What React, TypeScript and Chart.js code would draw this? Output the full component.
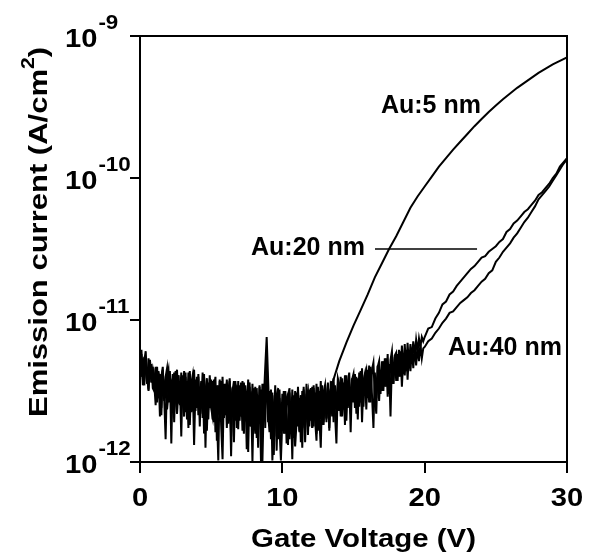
import { useEffect, useRef } from "react";
import { Chart, registerables } from "chart.js";

Chart.register(...registerables);

// ---------------- data (log10 of emission current in A/cm^2) ----------------
const seriesNames = ["Au:5 nm", "Au:20 nm", "Au:40 nm"];
const xTickValues = [0, 10, 20, 30];
const yTickExponents = [-12, -11, -10, -9];
const xTitle = "Gate Voltage (V)";

// noisy low-voltage part: from 0 V in 0.1 V steps
const noiseStartV = 0;
const noiseStepV = 0.1;

const au5NoiseLog = [
  -11.35, -11.24, -11.46, -11.29, -11.22, -11.41, -11.49, -11.28, -11.44, -11.36,
  -11.45, -11.6, -11.33, -11.55, -11.38, -11.67, -11.35, -11.56, -11.4, -11.34,
  -11.58, -11.37, -11.87, -11.41, -11.61, -11.36, -11.66, -11.39, -11.57, -11.37,
  -11.56, -11.68, -11.4, -11.62, -11.37, -11.74, -11.45, -11.39, -11.65, -11.42,
  -11.6, -11.4, -11.75, -11.44, -11.66, -11.38, -11.9, -11.45, -11.63, -11.41,
  -11.62, -11.68, -11.42, -11.79, -11.46, -11.66, -11.43, -11.74, -11.98, -11.45,
  -11.65, -11.44, -11.7, -11.43, -11.82, -11.48, -11.68, -11.45, -11.76, -11.43,
  -11.68, -11.47, -11.78, -11.44, -11.71, -11.5, -11.93, -11.47, -11.7, -11.45,
  -11.67, -11.8, -11.48, -11.72, -11.46, -12.0, -11.7, -11.45, -11.76, -11.26,
  -11.66, -11.79, -11.49, -11.99, -11.72, -11.52, -11.82, -11.48, -11.76, -11.99,
  -11.7, -11.78, -11.5, -11.87, -11.72, -11.51, -11.8, -11.49, -11.74, -11.89,
  -11.72, -11.5, -11.79, -11.53, -11.76, -11.47, -11.86, -11.55, -11.5, -11.75,
  -11.52, -11.76, -11.48, -11.71, -11.45, -11.78, -11.5, -11.7, -11.46, -11.74,
  -11.49, -11.7, -11.46, -11.63, -11.44,
];

const au20NoiseLog = [
  -11.3, -11.21, -11.42, -11.26, -11.35, -11.45, -11.27, -11.4, -11.31, -11.48,
  -11.5, -11.33, -11.56, -11.36, -11.68, -11.4, -11.33, -11.57, -11.42, -11.63,
  -11.52, -11.36, -11.61, -11.38, -11.72, -11.42, -11.35, -11.59, -11.43, -11.82,
  -11.39, -11.61, -11.37, -11.7, -11.45, -11.36, -11.65, -11.42, -11.88, -11.47,
  -11.62, -11.38, -11.64, -11.43, -11.69, -11.4, -11.58, -11.78, -11.44, -11.62,
  -11.42, -11.7, -11.48, -11.4, -11.85, -11.46, -11.67, -11.43, -11.8, -11.49,
  -11.67, -11.42, -11.73, -11.47, -11.96, -11.5, -11.43, -11.71, -11.46, -11.77,
  -11.46, -11.68, -11.43, -11.74, -11.49, -11.91, -11.52, -11.44, -11.75, -11.5,
  -11.7, -11.47, -11.83, -11.53, -11.73, -11.49, -12.0, -11.56, -11.33, -11.12,
  -11.42, -11.7, -11.78, -11.51, -11.95, -11.58, -11.53, -11.84, -11.55, -11.76,
  -11.73, -11.5, -11.8, -11.55, -11.52, -11.84, -11.57, -11.98, -11.53, -11.78,
  -11.51, -11.75, -11.55, -11.86, -11.5, -11.72, -11.78, -11.52, -11.74, -11.49,
  -11.71, -11.47, -11.75, -11.51, -11.8, -11.48, -11.69, -11.9, -11.5, -11.72,
  -11.47, -11.69, -11.45, -11.76, -11.5, -11.43, -11.72, -11.46, -11.67, -11.41,
  -11.45, -11.68, -11.41, -11.63, -11.39, -11.71, -11.44, -11.37, -11.66, -11.42,
  -11.38, -11.62, -11.4, -11.7, -11.37, -11.58, -11.34, -11.61, -11.39, -11.35,
  -11.55, -11.32, -11.58, -11.35, -11.3, -11.54, -11.66, -11.33, -11.29, -11.52,
  -11.29, -11.5, -11.27, -11.47, -11.24, -11.52, -11.28, -11.22, -11.45, -11.25,
  -11.23, -11.43, -11.21, -11.4, -11.18, -11.38, -11.17, -11.36, -11.16, -11.33,
  -11.17, -11.28, -11.15, -11.25, -11.14, -11.22, -11.13, -11.19, -11.12, -11.15,
];

const au40NoiseLog = [
  -11.24, -11.4, -11.27, -11.46, -11.3, -11.38, -11.5, -11.29, -11.44, -11.33,
  -11.48, -11.34, -11.58, -11.37, -11.52, -11.62, -11.36, -11.55, -11.84, -11.4,
  -11.35, -11.57, -11.42, -11.63, -11.37, -11.54, -11.66, -11.39, -11.6, -11.45,
  -11.58, -11.36, -11.65, -11.43, -11.76, -11.38, -11.59, -11.46, -11.35, -11.64,
  -11.4, -11.67, -11.47, -11.6, -11.37, -11.8, -11.5, -11.41, -11.7, -11.39,
  -11.62, -11.43, -11.72, -11.48, -11.66, -11.99, -11.42, -11.63, -11.4, -11.69,
  -11.45, -11.76, -11.52, -11.41, -11.68, -11.47, -11.86, -11.43, -11.64, -11.5,
  -11.71, -11.44, -11.62, -11.8, -11.46, -11.67, -11.42, -11.75, -11.51, -12.0,
  -11.48, -11.73, -11.55, -11.9, -11.47, -11.77, -11.45, -11.69, -11.58, -11.38,
  -11.72, -11.5, -11.84, -11.53, -11.76, -11.46, -11.92, -11.56, -11.49, -11.8,
  -11.52, -11.8, -11.5, -11.71, -11.88, -11.48, -11.75, -11.54, -11.83, -11.5,
  -11.74, -11.47, -11.78, -11.53, -11.9, -11.49, -11.72, -11.45, -11.81, -11.55,
  -11.48, -11.76, -11.46, -11.7, -11.85, -11.47, -11.68, -11.43, -11.74, -11.51,
  -11.46, -11.72, -11.44, -11.78, -11.49, -11.68, -11.41, -11.66, -11.87, -11.45,
  -11.64, -11.4, -11.68, -11.44, -11.74, -11.39, -11.62, -11.42, -11.79, -11.41,
  -11.58, -11.38, -11.66, -11.41, -11.61, -11.36, -11.72, -11.43, -11.38, -11.63,
  -11.35, -11.58, -11.33, -11.53, -11.76, -11.37, -11.55, -11.32, -11.57, -11.35,
  -11.5, -11.29, -11.47, -11.27, -11.54, -11.31, -11.68, -11.29, -11.45, -11.26,
  -11.43, -11.24, -11.4, -11.22, -11.47, -11.26, -11.39, -11.21, -11.42, -11.23,
  -11.36, -11.21, -11.34, -11.19, -11.32, -11.18, -11.29, -11.17, -11.27, -11.2,
];

// rising part of Au:5 nm: from 13.5 V in 0.5 V steps
const au5RiseStartV = 13.5;
const au5RiseStepV = 0.5;
const au5RiseLog = [
  -11.45, -11.29, -11.16, -11.04, -10.93, -10.82, -10.7, -10.6, -10.5, -10.41,
  -10.31, -10.21, -10.13, -10.06, -9.99, -9.92, -9.86, -9.8, -9.745, -9.69,
  -9.635, -9.585, -9.535, -9.49, -9.445, -9.405, -9.365, -9.33, -9.295, -9.26,
  -9.23, -9.2, -9.175, -9.15,
];

// rising part of Au:20 nm and Au:40 nm: from 20 V in 0.25 V steps
const riseStartV = 20;
const riseStepV = 0.25;
const au20RiseLog = [
  -11.12, -11.06, -11.05, -10.99, -10.95, -10.89, -10.87, -10.82, -10.8, -10.76,
  -10.73, -10.7, -10.67, -10.64, -10.62, -10.59, -10.56, -10.55, -10.52, -10.5,
  -10.48, -10.45, -10.43, -10.38, -10.36, -10.32, -10.3, -10.27, -10.24, -10.22,
  -10.19, -10.16, -10.12, -10.1, -10.07, -10.04, -10.0, -9.97, -9.92, -9.89,
  -9.86,
];
const au40RiseLog = [
  -11.19, -11.15, -11.13, -11.09, -11.06, -11.02, -10.99, -10.95, -10.94, -10.91,
  -10.88, -10.86, -10.84, -10.81, -10.79, -10.76, -10.73, -10.71, -10.67, -10.65,
  -10.59, -10.56, -10.52, -10.49, -10.46, -10.42, -10.39, -10.35, -10.31, -10.28,
  -10.24, -10.2, -10.15, -10.12, -10.09, -10.06, -10.02, -9.98, -9.94, -9.9,
  -9.87,
];

// ---------------- helpers ----------------
type Pt = { x: number; y: number };
function sweep(startV: number, stepV: number, logs: number[]): Pt[] {
  return logs.map((v, i) => ({ x: +(startV + i * stepV).toFixed(3), y: Math.pow(10, v) }));
}

const FONT = '"Liberation Sans", Arial, Helvetica, sans-serif';

// draws text with a horizontal stretch factor; returns drawn width
function drawText(ctx: CanvasRenderingContext2D, text: string, x: number, y: number, font: string, align: string, sx: number) {
  ctx.save();
  ctx.font = font;
  const w = ctx.measureText(text).width * sx;
  const x0 = align === "center" ? x - w / 2 : align === "right" ? x - w : x;
  ctx.translate(x0, y);
  ctx.scale(sx, 1);
  ctx.textAlign = "left";
  ctx.textBaseline = "alphabetic";
  ctx.fillText(text, 0, 0);
  ctx.restore();
  return w;
}
function textWidth(ctx: CanvasRenderingContext2D, text: string, font: string, sx: number) {
  ctx.save();
  ctx.font = font;
  const w = ctx.measureText(text).width * sx;
  ctx.restore();
  return w;
}

const axesPlugin = {
  id: "paperAxes",
  afterDraw(chart: any) {
    const { ctx, chartArea } = chart;
    const xs = chart.scales.x;
    const ys = chart.scales.y;
    const { left, right, top, bottom } = chartArea;
    ctx.save();
    ctx.strokeStyle = "#000";
    ctx.fillStyle = "#000";
    ctx.lineWidth = 2;
    ctx.lineCap = "butt";
    // frame
    ctx.strokeRect(left, top, right - left, bottom - top);
    // ticks
    ctx.beginPath();
    yTickExponents.forEach((e) => {
      const py = Math.round(ys.getPixelForValue(Math.pow(10, e)));
      ctx.moveTo(left - 10, py);
      ctx.lineTo(left, py);
    });
    xTickValues.forEach((v) => {
      const px = Math.round(xs.getPixelForValue(v));
      ctx.moveTo(px, bottom);
      ctx.lineTo(px, bottom + 11);
    });
    ctx.stroke();

    const tickFont = `bold 26px ${FONT}`;
    const supFont = `bold 20px ${FONT}`;
    const sx = 1.12;
    // y tick labels 10^e (the "10" parts are left-aligned in a column)
    yTickExponents.forEach((e) => {
      const py = ys.getPixelForValue(Math.pow(10, e));
      const leftX = left - 75;
      const bw = drawText(ctx, "10", leftX, py + 11, tickFont, "left", sx);
      drawText(ctx, String(e), leftX + bw + 1, py - 7, supFont, "left", sx);
    });
    // x tick labels
    xTickValues.forEach((v) => {
      drawText(ctx, String(v), xs.getPixelForValue(v), bottom + 44, tickFont, "center", sx);
    });
    // x title
    drawText(ctx, xTitle, (left + right) / 2 + 10, bottom + 85, `bold 26.5px ${FONT}`, "center", 1.11);

    // y title (rotated, with superscript 2)
    ctx.save();
    ctx.translate(47, 232);
    ctx.rotate(-Math.PI / 2);
    const mainF = `bold 26.5px ${FONT}`;
    const supF = `bold 18px ${FONT}`;
    const ysx = 1.17;
    const t1 = "Emission current (A/cm";
    const t2 = "2";
    const t3 = ")";
    const total = textWidth(ctx, t1, mainF, ysx) + textWidth(ctx, t2, supF, ysx) + textWidth(ctx, t3, mainF, ysx);
    let cx = -total / 2;
    cx += drawText(ctx, t1, cx, 0, mainF, "left", ysx);
    cx += drawText(ctx, t2, cx, -13, supF, "left", ysx);
    drawText(ctx, t3, cx, 0, mainF, "left", ysx);
    ctx.restore();

    // series labels
    const lf = `bold 25px ${FONT}`;
    drawText(ctx, seriesNames[0], xs.getPixelForValue(16.93), ys.getPixelForValue(Math.pow(10, -9.542)), lf, "left", 1);
    drawText(ctx, seriesNames[1], xs.getPixelForValue(7.8), ys.getPixelForValue(Math.pow(10, -10.542)), lf, "left", 1);
    drawText(ctx, seriesNames[2], xs.getPixelForValue(21.64), ys.getPixelForValue(Math.pow(10, -11.246)), lf, "left", 1);
    // leader line for Au:20 nm
    ctx.lineWidth = 1.5;
    ctx.beginPath();
    const ly = ys.getPixelForValue(Math.pow(10, -10.5));
    ctx.moveTo(xs.getPixelForValue(16.51), ly);
    ctx.lineTo(xs.getPixelForValue(23.68), ly);
    ctx.stroke();
    ctx.restore();
  },
};

export default function App() {
  const ref = useRef<HTMLCanvasElement | null>(null);
  useEffect(() => {
    if (!ref.current) return;
    const au5 = [...sweep(noiseStartV, noiseStepV, au5NoiseLog), ...sweep(au5RiseStartV, au5RiseStepV, au5RiseLog)];
    const au20 = [...sweep(noiseStartV, noiseStepV, au20NoiseLog), ...sweep(riseStartV, riseStepV, au20RiseLog)];
    const au40 = [...sweep(noiseStartV, noiseStepV, au40NoiseLog), ...sweep(riseStartV, riseStepV, au40RiseLog)];
    const mk = (label: string, data: Pt[]) => ({
      label,
      data,
      borderColor: "#000",
      borderWidth: 2,
      pointRadius: 0,
      fill: false,
      tension: 0,
    });
    const chart = new Chart(ref.current, {
      type: "line",
      data: { datasets: [mk(seriesNames[0], au5), mk(seriesNames[1], au20), mk(seriesNames[2], au40)] },
      options: {
        animation: false,
        responsive: false,
        maintainAspectRatio: false,
        layout: { padding: { left: 140, top: 36, right: 23, bottom: 93 } },
        plugins: { legend: { display: false }, tooltip: { enabled: false }, title: { display: false } },
        scales: {
          x: { type: "linear", min: 0, max: 30, display: false },
          y: { type: "logarithmic", min: 1e-12, max: 1e-9, display: false },
        },
      },
      plugins: [axesPlugin],
    });
    return () => chart.destroy();
  }, []);
  return (
    <canvas
      ref={ref}
      width={590}
      height={555}
      style={{ display: "block", position: "fixed", left: 0, top: 0, background: "#fff" }}
    />
  );
}
